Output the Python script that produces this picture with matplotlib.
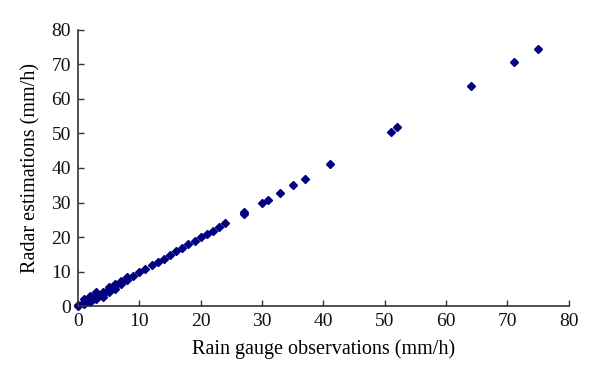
import numpy as np
import matplotlib
matplotlib.use("Agg")
import matplotlib.pyplot as plt

plt.rcParams['font.family'] = ['Liberation Serif', 'DejaVu Serif']

# rain gauge observations vs radar estimations (mm/h)
gauge = [0, 0,
         1, 1, 1,
         2, 2, 2,
         3, 3, 3,
         4, 4, 4,
         5, 5, 5,
         6, 6, 6,
         7, 7,
         8, 8,
         9, 10, 11, 12, 13, 14, 15, 16, 17, 18, 19, 20, 21, 22, 23, 24,
         27, 27, 30, 31, 33, 35, 37, 41, 51, 52, 64, 71, 75]
radar = [0, 0.3,
         0.5, 1.2, 2.0,
         1.2, 2.0, 2.8,
         2.0, 3.0, 4.0,
         2.5, 3.5, 4.2,
         4.2, 5.0, 5.6,
         5.0, 5.8, 6.5,
         6.5, 7.3,
         7.6, 8.4,
         8.8, 9.8, 10.8, 11.8, 12.8, 13.6, 14.8, 15.9, 16.8, 17.9, 18.8, 20.0, 20.9, 21.7, 22.9, 24.0,
         26.7, 27.2, 29.9, 30.8, 32.8, 35.1, 36.8, 41.2, 50.4, 51.9, 63.8, 70.7, 74.6]

fig = plt.figure(figsize=(6, 3.84), dpi=100)
ax = fig.add_axes([0.13, 0.203, 0.818, 0.719])

ax.plot(gauge, radar, 'D', color='#000080', markersize=3.6, clip_on=False)

ax.set_xlim(0, 80)
ax.set_ylim(0, 80)
ax.set_xticks(np.arange(0, 81, 10))
ax.set_yticks(np.arange(0, 81, 10))
ax.spines['top'].set_visible(False)
ax.spines['right'].set_visible(False)
for s in ['left', 'bottom']:
    ax.spines[s].set_color('#333333')
    ax.spines[s].set_linewidth(1.2)
ax.tick_params(direction='in', length=4, width=1, colors='#333333', labelcolor='#111111', labelsize=14, pad=5)

ax.set_xlabel('Rain gauge observations (mm/h)', fontsize=14.5, labelpad=7)
ax.set_ylabel('Radar estimations (mm/h)', fontsize=14.5, labelpad=8)

fig.savefig('out.png', dpi=100)
